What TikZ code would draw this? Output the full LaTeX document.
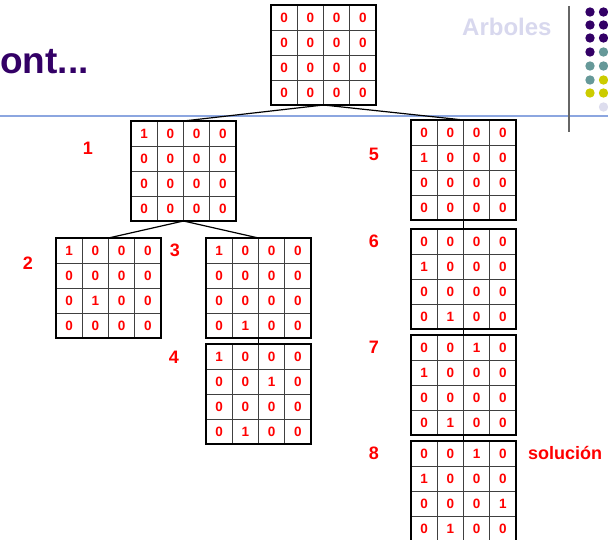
\documentclass[tikz,border=0pt]{standalone}
\usepackage{fontspec}
\setmainfont{Liberation Sans}
\usetikzlibrary{calc}
\definecolor{titlepurple}{HTML}{330066}
\definecolor{dotpurple}{HTML}{330066}
\definecolor{dotteal}{HTML}{669999}
\definecolor{dotyellow}{HTML}{CCCC00}
\definecolor{dotpale}{HTML}{DDDDEE}
\definecolor{rulblue}{HTML}{8CA6E0}
\definecolor{arbgray}{HTML}{D8D8EE}
\tikzset{
  matbox/.style={draw=black, line width=2.4pt, fill=white, minimum width=105pt, minimum height=100pt, inner sep=0pt, outer sep=0pt, anchor=north west},
  gridline/.style={draw=black!75, line width=0.9pt},
  cell/.style={text=red, font=\fontsize{13.5}{13.5}\selectfont\bfseries, inner sep=0pt},
  lbl/.style={text=red, font=\fontsize{18}{18}\selectfont\bfseries, inner sep=0pt},
  conn/.style={draw=black, line width=1.2pt},
}
% #1 name, #2 x, #3 y (top-left, pixel coords), #4 sixteen entries
\newcommand\qmat[4]{%
  \node[matbox] (#1) at (#2,#3) {};
  \foreach \cc in {1,2,3} {\draw[gridline] ($(#1.north west)+(\cc*26.25,0)$) -- ($(#1.south west)+(\cc*26.25,0)$);}
  \foreach \rr in {1,2,3} {\draw[gridline] ($(#1.north west)+(0,\rr*25)$) -- ($(#1.north east)+(0,\rr*25)$);}
  \draw[draw=black, line width=2.4pt] (#1.north west) rectangle (#1.south east);
  \foreach \v [count=\k from 0] in {#4} {%
    \pgfmathtruncatemacro\qrow{int(\k/4)}%
    \pgfmathtruncatemacro\qcol{mod(\k,4)}%
    \node[cell] (#1-\k) at ($(#1.north west)+(\qcol*26.25+13.1,\qrow*25+12.5)$) {\v};
  }%
}
\begin{document}
\begin{tikzpicture}[x=1pt,y=-1pt]
\useasboundingbox (0,0) rectangle (608,540);
\clip (0,0) rectangle (608,540);
% header
\draw[rulblue, line width=2pt] (0,116) -- (608,116);
\draw[black!60, line width=1.3pt] (569,6) -- (569,132);
\node[anchor=base west, inner sep=0pt, text=titlepurple, font=\fontsize{37}{37}\selectfont\bfseries] (title) at (0,74) {ont...};
\node[anchor=base west, inner sep=0pt, text=arbgray, font=\fontsize{24}{24}\selectfont\bfseries] (arboles) at (462,36) {Arboles};
% dots
\foreach \yy/\ca/\cb in {12/dotpurple/dotpurple, 25/dotpurple/dotpurple, 38/dotpurple/dotpurple, 52/dotpurple/dotteal, 66/dotteal/dotteal, 80/dotteal/dotyellow, 93/dotyellow/dotyellow} {
  \fill[\ca] (590,\yy) circle (4.7);
  \fill[\cb] (603.5,\yy) circle (4.7);
}
\fill[dotpale] (603.5,107) circle (4.7);
% matrices
\qmat{T}{271}{5}{0,0,0,0, 0,0,0,0, 0,0,0,0, 0,0,0,0}
\qmat{M1}{131}{121}{1,0,0,0, 0,0,0,0, 0,0,0,0, 0,0,0,0}
\qmat{M2}{56}{238}{1,0,0,0, 0,0,0,0, 0,1,0,0, 0,0,0,0}
\qmat{M3}{206}{238}{1,0,0,0, 0,0,0,0, 0,0,0,0, 0,1,0,0}
\qmat{M4}{206}{344}{1,0,0,0, 0,0,1,0, 0,0,0,0, 0,1,0,0}
\qmat{M5}{411}{120}{0,0,0,0, 1,0,0,0, 0,0,0,0, 0,0,0,0}
\qmat{M6}{411}{229}{0,0,0,0, 1,0,0,0, 0,0,0,0, 0,1,0,0}
\qmat{M7}{411}{335}{0,0,1,0, 1,0,0,0, 0,0,0,0, 0,1,0,0}
\qmat{M8}{411}{441}{0,0,1,0, 1,0,0,0, 0,0,0,1, 0,1,0,0}
% connectors
\draw[conn] (T.south) -- (M1.north);
\draw[conn] (T.south) -- (M5.north);
\draw[conn] (M1.south) -- (M2.north);
\draw[conn] (M1.south) -- (M3.north);
\draw[conn] (M3.south) -- (M4.north);
\draw[conn] (M5.south) -- (M6.north);
\draw[conn] (M6.south) -- (M7.north);
\draw[conn] (M7.south) -- (M8.north);
% labels
\node[lbl] (l1) at (88,148) {1};
\node[lbl] (l2) at (28,263) {2};
\node[lbl] (l3) at (175,250) {3};
\node[lbl] (l4) at (174,357) {4};
\node[lbl] (l5) at (374,154) {5};
\node[lbl] (l6) at (374,241) {6};
\node[lbl] (l7) at (374,347) {7};
\node[lbl] (l8) at (374,453) {8};
\node[lbl, anchor=west] (sol) at (528,453) {solución};
\end{tikzpicture}
\end{document}
